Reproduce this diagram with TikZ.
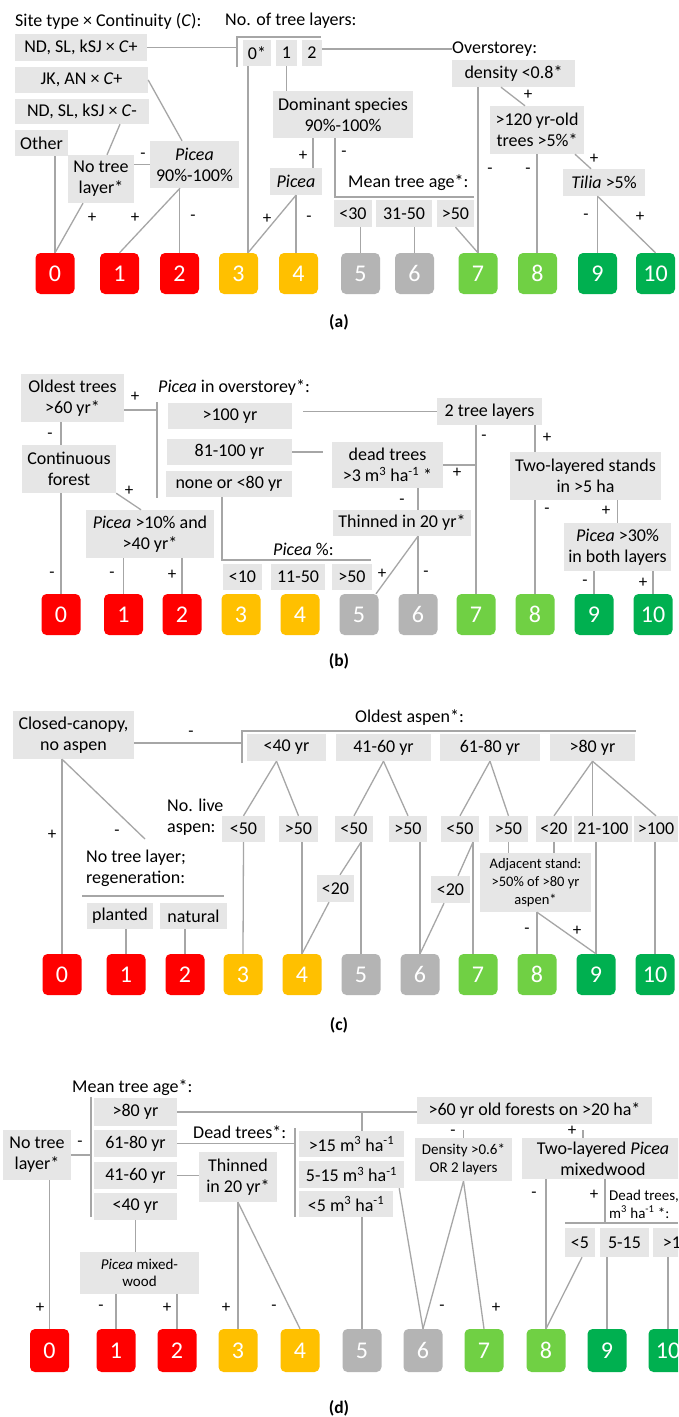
\documentclass[tikz,border=0pt]{standalone}
\usepackage{fontspec}
\setmainfont{Carlito}
\usetikzlibrary{calc}
\definecolor{boxg}{HTML}{E6E6E6}
\definecolor{lineg}{HTML}{A6A6A6}
\definecolor{cR}{HTML}{FF0000}
\definecolor{cO}{HTML}{FFC000}
\definecolor{cG}{HTML}{B4B4B4}
\definecolor{cL}{HTML}{70D044}
\definecolor{cD}{HTML}{00B050}
\tikzset{
 gbox/.style={fill=boxg, inner sep=1pt, align=center, font=\fontsize{18}{21}\selectfont},
 sbox/.style={gbox, font=\fontsize{14.5}{18}\selectfont},
 mbox/.style={gbox, font=\fontsize{15}{17.5}\selectfont},
 lbl/.style={inner sep=0pt, font=\fontsize{18}{21.5}\selectfont, anchor=west, align=left},
 slbl/.style={lbl, font=\fontsize{15}{18}\selectfont},
 sgn/.style={inner sep=0pt, font=\fontsize{17}{17}\selectfont},
 rbox/.style={rounded corners=5pt, minimum width=39pt, text=white, font=\fontsize{24}{24}\selectfont, inner sep=0pt},
 ln/.style={draw=lineg, line width=1.3pt},
 captxt/.style={inner sep=0pt, font=\fontsize{17.5}{17.5}\selectfont\bfseries}
}
\newcommand\bx[7][gbox]{\node[#1,minimum width={#5-#3},minimum height={#6-#4}] (#2) at ({(#3+#5)/2},{(#4+#6)/2}) {#7};}
\newcommand\rb[6]{\node[rbox,fill=#5,minimum height={#4-#3}] (#1) at (#2,{(#3+#4)/2}) {#6};}
\newcommand\sg[4]{\node[sgn] (#1) at (#2,#3) {#4};}
\begin{document}
\begin{tikzpicture}[x=1pt,y=-1pt]
\useasboundingbox (0,0) rectangle (678,1417);
\fill[white] (0,0) rectangle (678,1417);
\clip (0,0) rectangle (678,1417);

%%%%%%%%%%%%%%%% (a)
\node[lbl] (ta1) at (15,21) {Site type × Continuity (\textit{C}):};
\node[lbl] (ta2) at (225,21) {No. of tree layers:};
\bx{a1}{15}{34}{147}{61}{ND, SL, kSJ × \textit{C}+}
\bx{a2}{15}{67}{148}{93}{JK, AN × \textit{C}+}
\bx{a3}{15}{99}{149}{124}{ND, SL, kSJ × \textit{C}-}
\bx{a4}{15}{130}{68}{156}{Other}
\bx{a5}{68}{155}{134}{203}{No tree\\layer*}
\bx{a6}{150}{141}{239}{188}{\textit{Picea}\\90\%-100\%}
\bx{a7}{243}{40}{271}{66}{0*}
\bx{a8}{276}{40}{297}{66}{1}
\bx{a9}{302}{40}{322}{66}{2}
\node[lbl] (a10) at (452,49) {Overstorey:};
\bx{a11}{452}{60}{575}{87}{density <0.8*}
\bx{a12}{273}{91}{413}{138}{Dominant species\\90\%-100\%}
\bx{a13}{270}{168}{322}{195}{\textit{Picea}}
\node[lbl] (a14) at (348,183) {Mean tree age*:};
\bx{a15}{334}{200}{372}{227}{<30}
\bx{a16}{376}{200}{432}{227}{31-50}
\bx{a17}{437}{200}{474}{227}{>50}
\bx{a18}{490}{106}{584}{154}{>120 yr-old\\trees >5\%*}
\bx{a19}{563}{169}{645}{196}{\textit{Tilia} >5\%}
\coordinate (ab1) at (237,67);
\coordinate (ab2) at (237,37);
\coordinate (ab3) at (321,37);
\coordinate (am1) at (474,197);
\rb{ra0}{55}{253}{294}{cR}{0}
\rb{ra1}{119.5}{253}{294}{cR}{1}
\rb{ra2}{179.5}{253}{294}{cR}{2}
\rb{ra3}{238.5}{253}{294}{cO}{3}
\rb{ra4}{298.5}{253}{294}{cO}{4}
\rb{ra5}{360.5}{253}{294}{cG}{5}
\rb{ra6}{414.5}{253}{294}{cG}{6}
\rb{ra7}{478}{253}{294}{cL}{7}
\rb{ra8}{537.5}{253}{294}{cL}{8}
\rb{ra9}{597.5}{253}{294}{cD}{9}
\rb{ra10}{655.5}{253}{294}{cD}{10}
\draw[ln] (a1.east) -- (a1.east -| ab1);
\draw[ln] (ab1) -- (ab2) -- (ab3);
\draw[ln] (a9.east |- a10.west) -- (a10.west);
\draw[ln] (a8.south) -- (a8.south |- a12.north);
\coordinate (a3j) at ([xshift=9.5pt]ra3.north);
\draw[ln] (a7.south -| a3j) -- (a3j);
\draw[ln] (a13.south) -- (a3j);
\draw[ln] (a13.south) -- (a13.south |- ra4.north);
\coordinate (a12p) at ([xshift=-30pt]a12.south);
\draw[ln] (a12p) -- (a12p |- a13.north);
\coordinate (a12m) at ([xshift=-8pt]a12.south);
\draw[ln] (a12m) |- (am1);
\draw[ln] (ra5.north |- a15.south) -- (ra5.north);
\draw[ln] (ra6.north |- a16.south) -- (ra6.north);
\draw[ln] (a17.south) -- (ra7.north);
\draw[ln] (a11.south -| ra7.north) -- (ra7.north);
\draw[ln] ([xshift=-12.5pt]a11.south) -- ([xshift=-12pt]a18.north);
\draw[ln] (a18.south) -- (a18.south |- ra8.north);
\draw[ln] ([xshift=38pt]a18.south) -- ([xshift=-13pt]a19.north);
\draw[ln] (ra9.north |- a19.south) -- (ra9.north);
\draw[ln] (ra9.north |- a19.south) -- (ra10.north);
\draw[ln] (ra0.north |- a4.south) -- (ra0.north);
\draw[ln] ([xshift=-18pt]a5.south) -- (ra0.north);
\draw[ln] ([xshift=38pt]a3.south) -- ([xshift=6pt]a5.north);
\draw[ln] (a6.west -| a5.east) -- (a6.west);
\draw[ln] (a2.east) -- ([xshift=-12.5pt]a6.north);
\draw[ln] ([xshift=-14.5pt]a6.south) -- (ra1.north);
\draw[ln] (ra2.north |- a6.south) -- (ra2.north);
\sg{sa1}{143}{156}{-}
\sg{sa2}{92}{218}{+}
\sg{sa3}{135}{218}{+}
\sg{sa4}{193}{218}{-}
\sg{sa5}{267}{219}{+}
\sg{sa6}{309}{219}{-}
\sg{sa7}{303}{156}{+}
\sg{sa8}{344}{154}{-}
\sg{sa9}{528}{95}{+}
\sg{sa10}{490}{171}{-}
\sg{sa11}{528}{171}{-}
\sg{sa12}{594}{159}{+}
\sg{sa13}{586}{217}{-}
\sg{sa14}{640}{217}{+}
\node[captxt] (capa) at (339,322) {(a)};

%%%%%%%%%%%%%%%% (b)
\bx{b1}{21}{374}{124}{422}{Oldest trees\\>60 yr*}
\node[lbl] (b2) at (158,388) {\textit{Picea} in overstorey*:};
\bx{b3}{168}{403}{292}{429}{>100 yr}
\bx{b4}{167}{439}{292}{465}{81-100 yr}
\bx{b5}{166}{471}{292}{497}{none or <80 yr}
\bx{b6}{437}{398}{542}{425}{2 tree layers}
\bx{b7}{332}{442}{443}{488}{dead trees\\>3 m\textsuperscript{3} ha\textsuperscript{-1} *}
\bx{b8}{333}{510}{471}{536}{Thinned in 20 yr*}
\bx{b9}{510}{452}{661}{500}{Two-layered stands\\in >5 ha}
\bx{b10}{564}{523}{671}{571}{\textit{Picea} >30\%\\in both layers}
\bx{b11}{22}{445}{116}{493}{Continuous\\forest}
\bx{b12}{86}{510}{214}{558}{\textit{Picea} >10\% and\\>40 yr*}
\node[lbl] (b13) at (273,549) {\textit{Picea} \%:};
\bx{b14}{223}{564}{262}{590}{<10}
\bx{b15}{271}{564}{325}{590}{11-50}
\bx{b16}{332}{564}{372}{590}{>50}
\coordinate (bb1) at (157,402);
\coordinate (bb2) at (157,498);
\coordinate (bp) at (371,560);
\rb{rb0}{61}{594}{635}{cR}{0}
\rb{rb1}{123.5}{594}{635}{cR}{1}
\rb{rb2}{182}{594}{635}{cR}{2}
\rb{rb3}{241}{594}{635}{cO}{3}
\rb{rb4}{300}{594}{635}{cO}{4}
\rb{rb5}{359}{594}{635}{cG}{5}
\rb{rb6}{418}{594}{635}{cG}{6}
\rb{rb7}{476}{594}{635}{cL}{7}
\rb{rb8}{535}{594}{635}{cL}{8}
\rb{rb9}{594}{594}{635}{cD}{9}
\rb{rb10}{653}{594}{635}{cD}{10}
\coordinate (b1e) at ([yshift=-12pt]b1.east);
\draw[ln] (b1e) -- (b1e -| bb1);
\draw[ln] (bb1) -- (bb2);
\draw[ln,shorten <=11pt] (b6.west -| b3.east) -- (b6.west);
\draw[ln,shorten >=9pt] (b4.east) -- (b4.east -| b7.west);
\draw[ln] (b7.east) -- (b7.east -| rb7.north);
\draw[ln] (b6.south -| rb7.north) -- (rb7.north);
\draw[ln] (b6.south -| rb8.north) -- (b9.north -| rb8.north);
\draw[ln] (b9.south -| rb8.north) -- (rb8.north);
\draw[ln] (b10.north |- b9.south) -- (b10.north);
\draw[ln] (b10.south -| rb9.north) -- (rb9.north);
\draw[ln] (b10.south -| rb10.north) -- (rb10.north);
\draw[ln] (b7.south -| rb6.north) -- (b8.north -| rb6.north);
\draw[ln] (b8.south -| rb6.north) -- ([xshift=17pt]rb5.north);
\draw[ln] (b8.south -| rb6.north) -- (rb6.north);
\coordinate (b5s) at ([xshift=-7pt]b5.south);
\draw[ln] (b5s) |- (bp);
\draw[ln] (b1.south -| rb0.north) -- (b11.north -| rb0.north);
\draw[ln] (b11.south -| rb0.north) -- (rb0.north);
\draw[ln] (b11.south east) -- ([xshift=-9pt]b12.north);
\draw[ln] (b12.south -| rb1.north) -- (rb1.north);
\draw[ln] (b12.south -| rb2.north) -- (rb2.north);
\sg{sb1}{135}{397}{+}
\sg{sb2}{50}{436}{-}
\sg{sb3}{129}{491}{+}
\sg{sb4}{52}{575}{-}
\sg{sb5}{112}{575}{-}
\sg{sb6}{172}{575}{+}
\sg{sb7}{484}{438}{-}
\sg{sb8}{547}{438}{+}
\sg{sb9}{457}{473}{+}
\sg{sb10}{402}{502}{-}
\sg{sb11}{382}{574}{+}
\sg{sb12}{426}{574}{-}
\sg{sb13}{547}{511}{-}
\sg{sb14}{606}{511}{+}
\sg{sb15}{585}{583}{-}
\sg{sb16}{643}{583}{+}
\node[captxt] (capb) at (339,661) {(b)};

%%%%%%%%%%%%%%%% (c)
\bx{c1}{13}{711}{134}{759}{Closed-canopy,\\no aspen}
\node[lbl] (c2) at (355,718) {Oldest aspen*:};
\bx{c3}{247}{734}{326}{761}{<40 yr}
\bx{c4}{336}{734}{431}{761}{41-60 yr}
\bx{c5}{440}{734}{540}{761}{61-80 yr}
\bx{c6}{550}{734}{635}{761}{>80 yr}
\node[lbl] (c7) at (167,817) {No. live\\aspen:};
\bx{c8}{222}{816}{265}{842}{<50}
\bx{c9}{279}{816}{318}{842}{>50}
\bx{c10}{335}{816}{373}{842}{<50}
\bx{c11}{389}{816}{427}{842}{>50}
\bx{c12}{441}{816}{479}{842}{<50}
\bx{c13}{489}{816}{528}{842}{>50}
\bx{c14}{536}{816}{572}{842}{<20}
\bx{c15}{574}{816}{632}{842}{21-100}
\bx{c16}{634}{816}{678}{842}{>100}
\bx{c17}{317}{875}{354}{902}{<20}
\bx{c18}{431}{876}{470}{903}{<20}
\bx[sbox]{c19}{480}{853}{591}{912}{Adjacent stand:\\>50\% of >80 yr\\aspen*}
\node[lbl] (c20) at (86,868.5) {No tree layer;\\regeneration:};
\bx{c21}{87}{903}{153}{929}{planted}
\bx{c22}{160}{903}{227}{929}{natural}
\coordinate (cb1) at (242,763);
\coordinate (cb2) at (242,731);
\coordinate (cb3) at (636,731);
\coordinate (cl1) at (82,896);
\coordinate (cl2) at (224,896);
\coordinate (cd) at (145,839);
\rb{rc0}{62}{954}{995}{cR}{0}
\rb{rc1}{126}{954}{995}{cR}{1}
\rb{rc2}{185}{954}{995}{cR}{2}
\rb{rc3}{243}{954}{995}{cO}{3}
\rb{rc4}{302}{954}{995}{cO}{4}
\rb{rc5}{361}{954}{995}{cG}{5}
\rb{rc6}{420}{954}{995}{cG}{6}
\rb{rc7}{478}{954}{995}{cL}{7}
\rb{rc8}{537}{954}{995}{cL}{8}
\rb{rc9}{596}{954}{995}{cD}{9}
\rb{rc10}{655}{954}{995}{cD}{10}
\coordinate (c1e) at ([yshift=-8pt]c1.east);
\draw[ln] (c1e) -- (c1e -| cb1);
\draw[ln] (cb1) -- (cb2) -- (cb3);
\draw[ln] ([xshift=-10pt]c3.south) -- (c8.north);
\draw[ln] ([xshift=-10pt]c3.south) -- (c9.north);
\draw[ln] (c4.south) -- (c10.north);
\draw[ln] (c4.south) -- (c11.north);
\draw[ln] (c5.south) -- (c12.north);
\draw[ln] (c5.south) -- (c13.north);
\draw[ln] (c6.south) -- (c14.north);
\draw[ln] (c6.south) -- (c6.south |- c15.north);
\draw[ln] (c6.south) -- (c16.north);
\draw[ln] (c8.south) -- (rc3.north);
\draw[ln] (c9.south -| rc4.north) -- (rc4.north);
\draw[ln] (c10.south -| rc5.north) -- (rc5.north);
\draw[ln] (c10.south -| rc5.north) -- ([xshift=4.5pt]c17.north);
\draw[ln] ([xshift=-6.5pt]c17.south) -- (rc4.north);
\draw[ln] (c11.south -| rc6.north) -- (rc6.north);
\draw[ln] ([xshift=13pt]c12.south) -- ([xshift=-5pt]rc7.north);
\draw[ln] ([xshift=13pt]c12.south) -- ([xshift=7.5pt]c18.north);
\draw[ln] ([xshift=-6.5pt]c18.south) -- (rc6.north);
\draw[ln] (c13.south) -- (c13.south |- c19.north);
\draw[ln] (c14.south) -- (c14.south |- c19.north);
\draw[ln] (c19.south -| rc8.north) -- (rc8.north);
\draw[ln] (c19.south -| rc8.north) -- (rc9.north);
\draw[ln] (c15.south -| rc9.north) -- (rc9.north);
\draw[ln] (c16.south -| rc10.north) -- (rc10.north);
\draw[ln] (c1.south -| rc0.north) -- (rc0.north);
\draw[ln] (c1.south -| rc0.north) -- (cd);
\draw[ln] (cl1) -- (cl2);
\draw[ln] (c21.south -| rc1.north) -- (rc1.north);
\draw[ln] (c22.south -| rc2.north) -- (rc2.north);
\sg{sc1}{191}{734}{-}
\sg{sc2}{52}{835}{+}
\sg{sc3}{117}{833}{-}
\sg{sc4}{527}{931}{-}
\sg{sc5}{577}{931}{+}
\node[captxt] (capc) at (339,1025) {(c)};

%%%%%%%%%%%%%%%% (d)
\bx{d1}{3}{1130}{71}{1180}{No tree\\layer*}
\node[lbl] (d2) at (72,1088) {Mean tree age*:};
\bx{d3}{94}{1098}{177}{1126}{>80 yr}
\bx{d4}{94}{1130}{177}{1157}{61-80 yr}
\bx{d5}{94}{1162}{177}{1189}{41-60 yr}
\bx{d6}{94}{1193}{177}{1220}{<40 yr}
\node[lbl] (d7) at (193,1132) {Dead trees*:};
\bx{d8}{299}{1131}{404}{1157}{>15 m\textsuperscript{3} ha\textsuperscript{-1}}
\bx{d9}{299}{1161}{404}{1188}{5-15 m\textsuperscript{3} ha\textsuperscript{-1}}
\bx{d10}{299}{1191}{393}{1217}{<5 m\textsuperscript{3} ha\textsuperscript{-1}}
\bx{d11}{199}{1152}{277}{1202}{Thinned\\in 20 yr*}
\bx[mbox]{d12}{80}{1252}{199}{1294}{\textit{Picea} mixed-\\wood}
\bx{d13}{417}{1097}{652}{1124}{>60 yr old forests on >20 ha*}
\bx[mbox]{d14}{415}{1138}{512}{1181}{Density >0.6*\\OR 2 layers}
\bx{d15}{522}{1138}{684}{1179}{Two-layered \textit{Picea}\\mixedwood}
\node[slbl] (d16) at (609,1204) {Dead trees,\\m\textsuperscript{3} ha\textsuperscript{-1} *:};
\bx{d17}{565}{1228}{595}{1257}{<5}
\bx{d18}{600}{1228}{649}{1257}{5-15}
\bx{d19}{653}{1228}{700}{1257}{>15}
\coordinate (db1) at (91,1097);
\coordinate (db2) at (91,1217);
\coordinate (dd1) at (295,1128);
\coordinate (dd2) at (295,1217);
\coordinate (dh1) at (565,1223);
\coordinate (dh2) at (678,1223);
\coordinate (dh3) at (605,1223);
\rb{rd0}{49.5}{1329}{1372}{cR}{0}
\rb{rd1}{116}{1329}{1372}{cR}{1}
\rb{rd2}{177}{1329}{1372}{cR}{2}
\rb{rd3}{238}{1329}{1372}{cO}{3}
\rb{rd4}{300}{1329}{1372}{cO}{4}
\rb{rd5}{362}{1329}{1372}{cG}{5}
\rb{rd6}{423}{1329}{1372}{cG}{6}
\rb{rd7}{484}{1329}{1372}{cL}{7}
\rb{rd8}{546}{1329}{1372}{cL}{8}
\rb{rd9}{607}{1329}{1372}{cD}{9}
\rb{rd10}{668}{1329}{1372}{cD}{10}
\draw[ln] (d1.east) -- (d1.east -| db1);
\draw[ln] (db1) -- (db2);
\draw[ln] (d3.east) -- (d3.east -| d13.west);
\draw[ln] (d3.east -| rd5.north) -- (d8.north -| rd5.north);
\draw[ln] (d4.east) -- (d4.east -| dd1);
\draw[ln] (dd1) -- (dd2);
\draw[ln] (d5.east) -- (d5.east -| d11.west);
\draw[ln] (d11.south -| rd3.north) -- (rd3.north);
\draw[ln] (d11.south -| rd3.north) -- (rd4.north);
\draw[ln] (d6.south) -- (d6.south |- d12.north);
\draw[ln] (d12.south -| rd1.north) -- (rd1.north);
\draw[ln] (d12.south -| rd2.north) -- (rd2.north);
\draw[ln] (d1.south -| rd0.north) -- (rd0.north);
\draw[ln] (d10.south -| rd5.north) -- (rd5.north);
\draw[ln] ([xshift=-5pt]d9.south east) -- (rd6.north);
\draw[ln,shorten <=6pt] (d14.north |- d13.south) -- (d14.north);
\coordinate (d15n) at ([xshift=-20pt]d15.north);
\draw[ln,shorten <=6pt] (d15n |- d13.south) -- (d15n);
\draw[ln] (d14.south) -- (rd6.north);
\draw[ln] (d14.south) -- (rd7.north);
\draw[ln] (d15.south -| rd8.north) -- (rd8.north);
\draw[ln] (d15.south -| dh3) -- (dh3);
\draw[ln] (dh1) -- (dh2);
\draw[ln] ([xshift=2pt]d17.south) -- (rd8.north);
\draw[ln] (d18.south -| rd9.north) -- (rd9.north);
\draw[ln] (d19.south -| rd10.north) -- (rd10.north);
\sg{sd1}{80}{1144}{-}
\sg{sd2}{40}{1308}{+}
\sg{sd3}{101}{1308}{-}
\sg{sd4}{167}{1308}{+}
\sg{sd5}{226}{1308}{+}
\sg{sd6}{274}{1308}{-}
\sg{sd7}{453}{1133}{-}
\sg{sd8}{572}{1131}{+}
\sg{sd9}{442}{1308}{-}
\sg{sd10}{496}{1308}{+}
\sg{sd11}{534}{1195}{-}
\sg{sd12}{594}{1195}{+}
\node[captxt] (capd) at (339,1408) {(d)};
\end{tikzpicture}
\end{document}
